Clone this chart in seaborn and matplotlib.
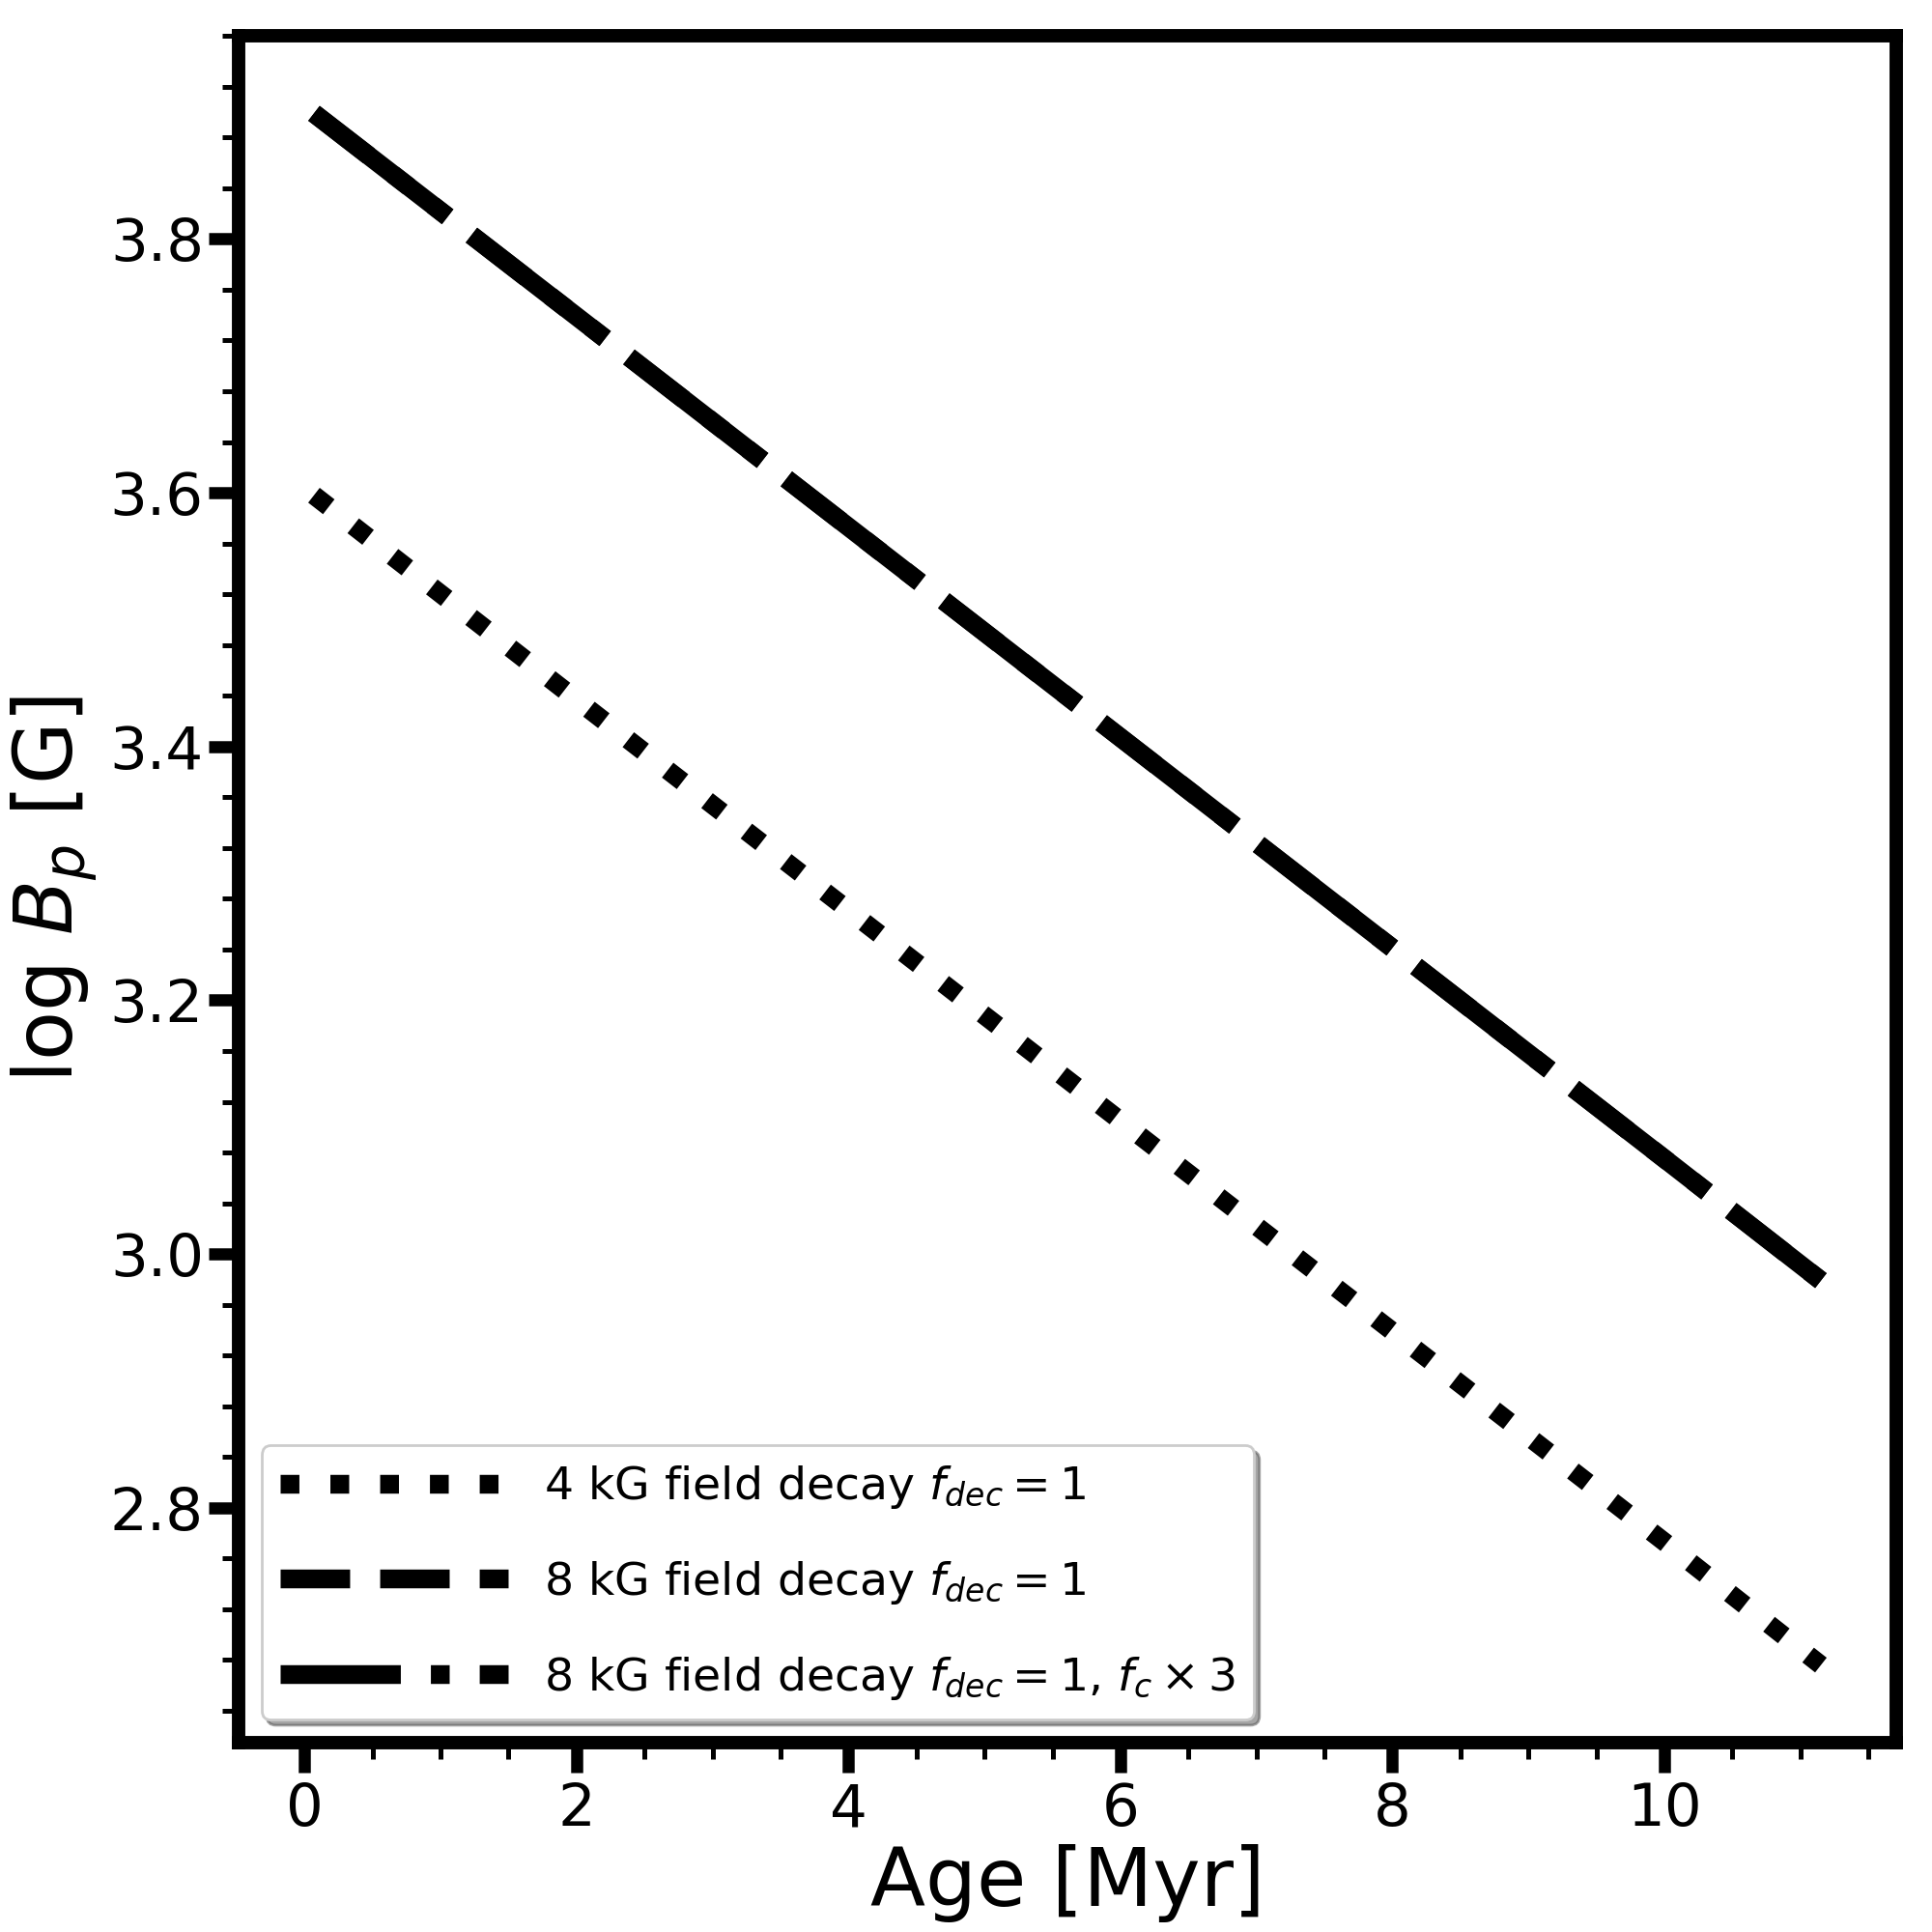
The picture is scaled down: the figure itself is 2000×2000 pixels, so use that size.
import matplotlib
matplotlib.use("Agg")
import matplotlib.pyplot as plt
import seaborn as sns
import pandas as pd
from matplotlib.ticker import AutoMinorLocator

# ---- data ----
ages = [0.07, 2.0, 4.0, 6.0, 8.0, 10.0, 11.15]
b4_dec = [3.598, 3.437, 3.271, 3.105, 2.939, 2.773, 2.676]
b8_dec = [3.899, 3.739, 3.573, 3.407, 3.241, 3.075, 2.979]
b8_dec_fc3 = [3.899, 3.739, 3.573, 3.407, 3.241, 3.075, 2.979]

labels = [r"4 kG field decay $f_{dec} = 1$",
          r"8 kG field decay $f_{dec} = 1$",
          r"8 kG field decay $f_{dec} = 1$, $f_c \times 3$"]
xticks = [0, 2, 4, 6, 8, 10]
yticks = [2.8, 3.0, 3.2, 3.4, 3.6, 3.8]

sns.set_style("ticks")
plt.rcParams["font.family"] = ["DejaVu Sans"]
plt.rcParams["mathtext.fontset"] = "dejavusans"
for key in ["text.color", "axes.labelcolor", "xtick.color", "ytick.color",
            "axes.edgecolor"]:
    plt.rcParams[key] = "black"

fig = plt.figure(figsize=(10, 10), dpi=200)
ax = fig.add_axes([0.1235, 0.098, 0.858, 0.8835])

df = pd.DataFrame({"age": ages, "b4": b4_dec, "b8": b8_dec, "b8c": b8_dec_fc3})
LW = 7
sns.lineplot(data=df, x="age", y="b4", ax=ax, color="black", lw=LW,
             linestyle=":", label=labels[0])
sns.lineplot(data=df, x="age", y="b8", ax=ax, color="black", lw=LW,
             linestyle="--", label=labels[1])
sns.lineplot(data=df, x="age", y="b8c", ax=ax, color="black", lw=LW,
             linestyle="-.", label=labels[2])

ax.set_xticks(xticks)
ax.set_yticks(yticks)
ax.set_xticklabels([str(t) for t in xticks])
ax.set_yticklabels([f"{t:.1f}" for t in yticks])
ax.xaxis.set_minor_locator(AutoMinorLocator(4))
ax.yaxis.set_minor_locator(AutoMinorLocator(5))

for side in ["left", "right", "top", "bottom"]:
    ax.spines[side].set_visible(True)
    ax.spines[side].set_linewidth(5)
    ax.spines[side].set_color("black")

ax.tick_params(axis="both", which="major", direction="out", length=11,
               width=4.5, labelsize=22, colors="black", top=False, right=False)
ax.tick_params(axis="y", which="major", pad=2)
ax.tick_params(axis="both", which="minor", direction="out", length=6,
               width=1.8, colors="black", top=False, right=False)

ax.set_xlabel("Age [Myr]", fontsize=30, labelpad=2, color="black")
ax.set_ylabel(r"log $B_p$ [G]", fontsize=30, labelpad=4, color="black")

leg = ax.legend(loc="lower left", fontsize=17, handlelength=5,
                fancybox=True, shadow=True, frameon=True, labelspacing=1.05)
for t in leg.get_texts():
    t.set_color("black")

fig.savefig("out.png", dpi=200)
